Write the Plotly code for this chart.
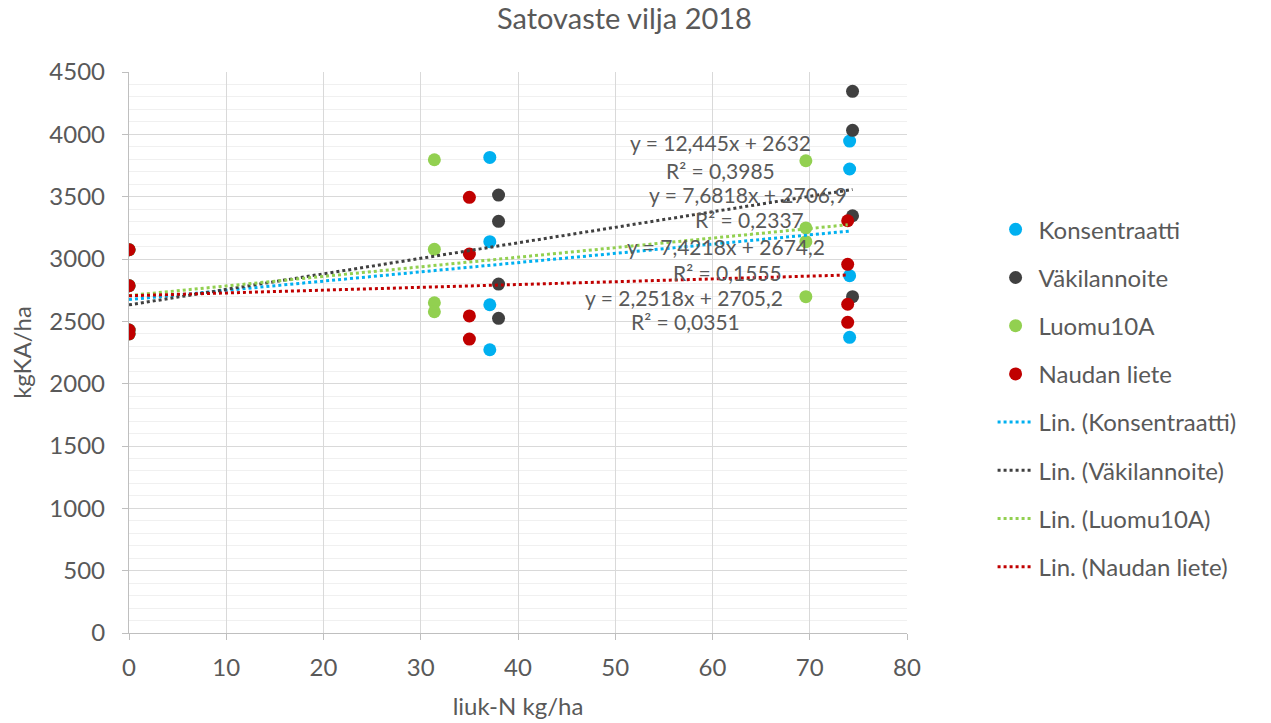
import plotly.graph_objects as go

# ---------------- data ----------------
series_names = ["Konsentraatti", "Väkilannoite", "Luomu10A", "Naudan liete"]
series_colors = ["#00B0F0", "#404040", "#92D050", "#C00000"]

x_konsentraatti = [0, 0, 0, 0, 37.1, 37.1, 37.1, 37.1, 74.1, 74.1, 74.1, 74.1]
y_konsentraatti = [3075, 2786, 2430, 2400, 3815, 3139, 2633, 2272, 3946, 3722, 2866, 2372]

x_vakilannoite = [0, 0, 0, 0, 38.0, 38.0, 38.0, 38.0, 74.4, 74.4, 74.4, 74.4]
y_vakilannoite = [3075, 2786, 2430, 2400, 3513, 3302, 2799, 2524, 4345, 4032, 3347, 2698]

x_luomu = [0, 0, 0, 0, 31.4, 31.4, 31.4, 31.4, 69.6, 69.6, 69.6, 69.6]
y_luomu = [3075, 2786, 2430, 2400, 3796, 3078, 2649, 2577, 3788, 3249, 3139, 2698]

x_naudan = [0, 0, 0, 0, 35.0, 35.0, 35.0, 35.0, 73.9, 73.9, 73.9, 73.9]
y_naudan = [3075, 2786, 2430, 2400, 3495, 3040, 2543, 2358, 3307, 2957, 2637, 2492]

trend_slopes = [7.4218, 12.445, 7.6818, 2.2518]
trend_intercepts = [2674.2, 2632, 2706.9, 2705.2]
trend_x_start = [0, 0, 0, 0]
trend_x_end = [74.1, 74.4, 73.9, 73.9]

eq_texts = ["y = 12,445x + 2632", "R² = 0,3985",
            "y = 7,6818x + 2706,9", "R² = 0,2337",
            "y = 7,4218x + 2674,2", "R² = 0,1555",
            "y = 2,2518x + 2705,2", "R² = 0,0351"]
eq_x = [60.8, 60.8, 63.7, 63.8, 61.4, 61.5, 57.1, 57.2]
eq_y = [3938, 3706, 3521, 3313, 3104, 2890, 2695, 2497]

x_ticks = [0, 10, 20, 30, 40, 50, 60, 70, 80]
y_ticks = [0, 500, 1000, 1500, 2000, 2500, 3000, 3500, 4000, 4500]

xs = [x_konsentraatti, x_vakilannoite, x_luomu, x_naudan]
ys = [y_konsentraatti, y_vakilannoite, y_luomu, y_naudan]

FONT = "Lato"
TXT = "#595959"

fig = go.Figure()

for i, name in enumerate(series_names):
    fig.add_trace(go.Scatter(
        x=xs[i], y=ys[i], mode="markers", name=name,
        legendgroup=f"g{i}",
        marker=dict(color=series_colors[i], size=13, line=dict(width=0)),
    ))

for i, name in enumerate(series_names):
    x0, x1 = trend_x_start[i], trend_x_end[i]
    fig.add_trace(go.Scatter(
        x=[x0, x1],
        y=[trend_intercepts[i] + trend_slopes[i] * x0, trend_intercepts[i] + trend_slopes[i] * x1],
        mode="lines", name=f"Lin. ({name})",
        legendgroup=f"t{i}",
        line=dict(color=series_colors[i], width=3, dash="dot"),
    ))

for t, ax, ay in zip(eq_texts, eq_x, eq_y):
    fig.add_annotation(x=ax, y=ay, text=t, showarrow=False,
                       font=dict(family=FONT, size=21, color=TXT),
                       xanchor="center", yanchor="middle")

fig.update_layout(
    width=1271, height=723,
    paper_bgcolor="white", plot_bgcolor="white",
    margin=dict(l=129, r=364, t=72, b=90),
    font=dict(family=FONT, color=TXT, size=24),
    title=dict(text="Satovaste vilja 2018", x=0.4913, xanchor="center",
               y=0.9737, yanchor="middle", font=dict(family=FONT, size=29, color=TXT)),
    showlegend=True,
    legend=dict(x=1.11, xanchor="left", y=0.759, yanchor="top",
                font=dict(family=FONT, size=24, color=TXT),
                tracegroupgap=14, itemwidth=36, bgcolor="rgba(0,0,0,0)"),
)

fig.update_xaxes(
    range=[0, 80], tickvals=x_ticks, ticktext=[str(v) for v in x_ticks],
    showgrid=True, gridcolor="#D9D9D9", gridwidth=1,
    showline=True, linecolor="#BFBFBF", linewidth=1.3,
    ticks="outside", ticklen=6, tickcolor="#BFBFBF",
    zeroline=False, automargin=False, ticklabelstandoff=7,
    tickfont=dict(family=FONT, size=24, color=TXT),
    title=dict(text="liuk-N kg/ha", font=dict(family=FONT, size=24, color=TXT), standoff=18),
)
fig.update_yaxes(
    range=[0, 4500], tickvals=y_ticks, ticktext=[str(v) for v in y_ticks],
    showgrid=True, gridcolor="#D9D9D9", gridwidth=1,
    minor=dict(dtick=100, showgrid=True, gridcolor="#F0F0F0", gridwidth=1),
    showline=True, linecolor="#BFBFBF", linewidth=1.3,
    ticks="outside", ticklen=6, tickcolor="#BFBFBF",
    zeroline=False, automargin=False, ticklabelstandoff=12,
    tickfont=dict(family=FONT, size=24, color=TXT),
    title=dict(text="kgKA/ha", font=dict(family=FONT, size=24, color=TXT), standoff=10),
)

fig.write_html("out.html",
               config={"displayModeBar": False},
               post_script="document.body.style.margin='0';document.body.style.padding='0';")
